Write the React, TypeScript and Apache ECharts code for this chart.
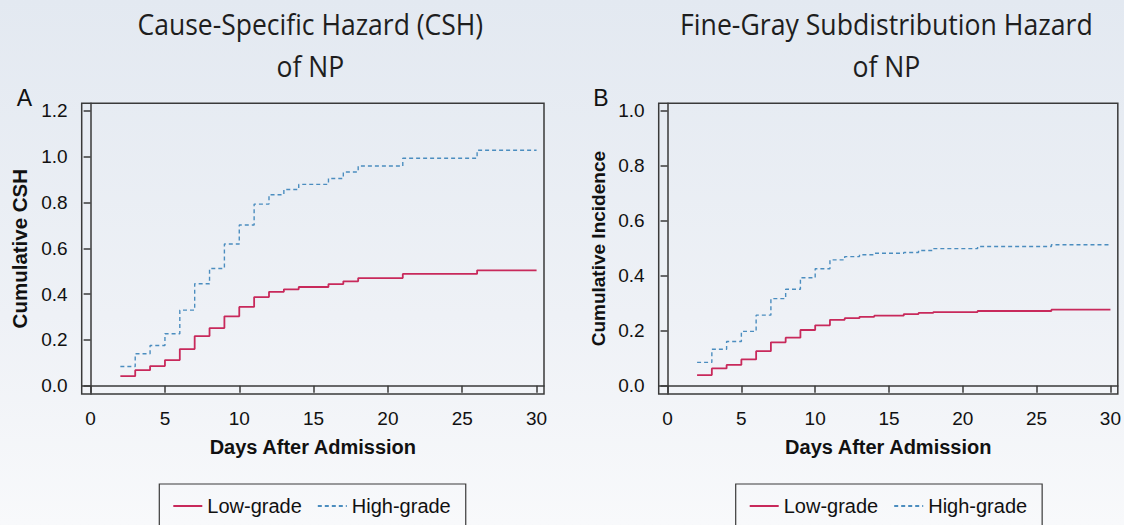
import React, { useEffect, useRef } from "react";
import * as echarts from "echarts";

const days = [2, 3, 4, 5, 6, 7, 8, 9, 10, 11, 12, 13, 14, 16, 17, 18, 21, 26, 30];
const cshLow = [0.042, 0.068, 0.086, 0.112, 0.16, 0.217, 0.252, 0.303, 0.344, 0.387, 0.41, 0.421, 0.431, 0.444, 0.456, 0.47, 0.488, 0.504, 0.504];
const cshHigh = [0.084, 0.14, 0.176, 0.227, 0.33, 0.445, 0.512, 0.619, 0.702, 0.793, 0.834, 0.857, 0.879, 0.905, 0.933, 0.959, 0.993, 1.028, 1.028];
const fgLow = [0.039, 0.063, 0.076, 0.096, 0.126, 0.158, 0.175, 0.203, 0.22, 0.24, 0.246, 0.251, 0.255, 0.261, 0.265, 0.268, 0.272, 0.277, 0.277];
const fgHigh = [0.085, 0.133, 0.161, 0.198, 0.257, 0.317, 0.351, 0.393, 0.426, 0.458, 0.47, 0.477, 0.482, 0.485, 0.492, 0.499, 0.507, 0.513, 0.513];

const xTicks = [0, 5, 10, 15, 20, 25, 30];
const yTicksA = [0, 0.2, 0.4, 0.6, 0.8, 1.0, 1.2];
const yTicksB = [0, 0.2, 0.4, 0.6, 0.8, 1.0];

const titleA = ["Cause-Specific Hazard (CSH)", "of NP"];
const titleB = ["Fine-Gray Subdistribution Hazard", "of NP"];
const yNameA = "Cumulative CSH";
const yNameB = "Cumulative Incidence";
const xName = "Days After Admission";
const seriesNames = ["Low-grade", "High-grade"];

const RED = "#c8295b";
const BLUE = "#4b8dbf";
const AXIS = "#3a3a3a";
const FONT = "'Liberation Sans', Arial, Helvetica, sans-serif";
const TITLE_FONT = "'Open Sans', sans-serif";
const TITLE_SIZE = 30;

function pairs(xs: number[], ys: number[]) {
  return xs.map((x, i) => [x, ys[i]]);
}

function measure(text: string, font: string) {
  const c = document.createElement("canvas");
  const ctx = c.getContext("2d");
  if (!ctx) return 0;
  ctx.font = font;
  return ctx.measureText(text).width;
}

export default function App() {
  const ref = useRef<HTMLDivElement>(null);
  useEffect(() => {
    if (!ref.current) return;
    const chart = echarts.init(ref.current, null, { renderer: "svg" });

    const tFont = `${TITLE_SIZE}px ${TITLE_FONT}`;
    const wA = measure(titleA[0], tFont) || 346;
    const wB = measure(titleB[0], tFont) || 413;
    const sA = 346 / wA;
    const sB = 413 / wB;
    const titleText = (text: string, x: number, y: number, s: number) => ({
      type: "text",
      x,
      y,
      scaleX: s,
      silent: true,
      style: {
        text,
        font: tFont,
        fill: "#1e1e1e",
        align: "center",
        verticalAlign: "middle",
      },
    });

    const xAxisBase = (gridIndex: number) => ({
      type: "value",
      gridIndex,
      min: -0.6,
      max: 30.5,
      name: xName,
      nameLocation: "middle",
      nameGap: 43,
      nameTextStyle: { fontFamily: FONT, fontSize: 20, fontWeight: "bold", color: "#111" },
      axisLine: { show: true, lineStyle: { color: AXIS, width: 1.5 } },
      axisTick: { show: true, length: 7, customValues: xTicks, lineStyle: { color: AXIS, width: 1.5 } },
      axisLabel: { customValues: xTicks, margin: 15, fontFamily: FONT, fontSize: 19, color: "#111", formatter: (v: number) => String(v) },
      splitLine: { show: false },
    });
    const yAxisBase = (gridIndex: number, min: number, max: number, ticks: number[], name: string, gap: number, nameSize: number) => ({
      type: "value",
      gridIndex,
      min,
      max,
      name,
      nameLocation: "middle",
      nameGap: gap,
      nameTextStyle: { fontFamily: FONT, fontSize: nameSize, fontWeight: "bold", color: "#111" },
      axisLine: { show: true, lineStyle: { color: AXIS, width: 1.5 } },
      axisTick: { show: true, length: 7, customValues: ticks, lineStyle: { color: AXIS, width: 1.5 } },
      axisLabel: { customValues: ticks, margin: 14, fontFamily: FONT, fontSize: 19, color: "#111", formatter: (v: number) => v.toFixed(1) },
      splitLine: { show: false },
    });
    const lowStyle = { color: RED, width: 1.8, type: "solid" };
    const highStyle = { color: BLUE, width: 1.4, type: [4, 3] };
    const mk = (name: string, xi: number, data: number[][], ls: any, color: string) => ({
      type: "line",
      name,
      xAxisIndex: xi,
      yAxisIndex: xi,
      step: "end",
      symbol: "none",
      data,
      lineStyle: ls,
      itemStyle: { color },
      silent: true,
    });
    const legendBase = (left: number) => ({
      data: seriesNames,
      left,
      top: 484,
      orient: "horizontal",
      itemWidth: 29,
      itemHeight: 14,
      itemGap: 15,
      padding: [12, 15, 40, 13],
      borderColor: AXIS,
      borderWidth: 1.2,
      itemStyle: { opacity: 0 },
      textStyle: { fontFamily: FONT, fontSize: 20, color: "#111" },
      selectedMode: false,
    });

    chart.setOption({
      animation: false,
      title: [
        { text: "A", left: 19.5, top: 81, textAlign: "center", textStyle: { fontFamily: FONT, fontSize: 23, fontWeight: "normal", color: "#111" } },
        { text: "B", left: 596, top: 81, textAlign: "center", textStyle: { fontFamily: FONT, fontSize: 23, fontWeight: "normal", color: "#111" } },
      ],
      graphic: [
        titleText(titleA[0], 310.3, 23.3, sA),
        titleText(titleA[1], 310.3, 65, sA),
        titleText(titleB[0], 886.4, 23.3, sB),
        titleText(titleB[1], 886.4, 65, sB),
      ],
      legend: [legendBase(159.3), legendBase(735.7)],
      grid: [
        { left: 81.7, top: 103.3, width: 462.3, height: 290.7, show: true, borderColor: AXIS, borderWidth: 1.5, backgroundColor: "transparent" },
        { left: 658.7, top: 103.3, width: 461.3, height: 290.7, show: true, borderColor: AXIS, borderWidth: 1.5, backgroundColor: "transparent" },
      ],
      xAxis: [xAxisBase(0), xAxisBase(1)],
      yAxis: [
        yAxisBase(0, -0.036, 1.233, yTicksA, yNameA, 52, 20.5),
        yAxisBase(1, -0.03, 1.028, yTicksB, yNameB, 51, 19),
      ],
      series: [
        mk(seriesNames[0], 0, pairs(days, cshLow), lowStyle, RED),
        mk(seriesNames[1], 0, pairs(days, cshHigh), highStyle, BLUE),
        mk(seriesNames[0], 1, pairs(days, fgLow), lowStyle, RED),
        mk(seriesNames[1], 1, pairs(days, fgHigh), highStyle, BLUE),
      ],
    });
    return () => chart.dispose();
  }, []);

  return (
    <div
      ref={ref}
      style={{
        position: "absolute",
        left: 0,
        top: 0,
        width: 1124,
        height: 525,
        background: "linear-gradient(180deg, #e3e9f1 0%, #eef1f6 60%, #f8f9fb 100%)",
      }}
    />
  );
}
